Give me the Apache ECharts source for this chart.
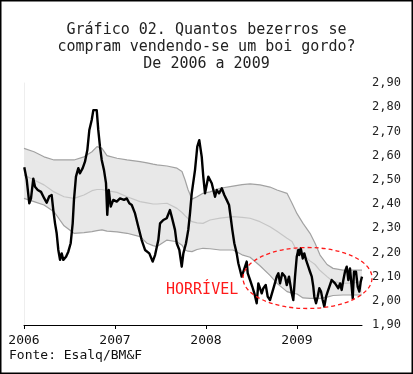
<!DOCTYPE html>
<html><head><meta charset="utf-8">
<script src="https://cdn.jsdelivr.net/npm/echarts@6/dist/echarts.min.js"></script>
<style>html,body{margin:0;padding:0;background:#fff}#c{width:413px;height:374px}</style>
</head><body><div id="c"></div>
<script>
// Title / texts
const titleText = 'Gráfico 02. Quantos bezerros se\ncompram vendendo-se um boi gordo?\nDe 2006 a 2009';
const sourceText = 'Fonte: Esalq/BM&F';
const noteText = 'HORRÍVEL';

// X axis ticks (years) and Y axis ticks
const xTickYears = [2006, 2007, 2008, 2009];
const yMin = 1.9, yMax = 2.9, yStep = 0.1;
const xMin = 2006, xMax = 2009.714;

// Black series: dates as decimal years, ratio (bezerros por boi)
const years = [
2006.003,2006.030,2006.058,2006.077,2006.102,2006.121,2006.151,2006.187,2006.223,2006.249,
2006.278,2006.304,2006.322,2006.341,2006.359,2006.377,2006.396,2006.414,2006.432,2006.462,
2006.487,2006.513,2006.535,2006.549,2006.571,2006.597,2006.615,2006.645,2006.670,2006.696,
2006.718,2006.744,2006.762,2006.799,2006.816,2006.835,2006.854,2006.879,2006.901,2006.915,
2006.931,2006.953,2006.981,2007.019,2007.055,2007.099,2007.129,2007.157,2007.184,2007.220,
2007.256,2007.293,2007.330,2007.377,2007.414,2007.440,2007.476,2007.495,2007.531,2007.568,
2007.604,2007.623,2007.659,2007.678,2007.707,2007.733,2007.751,2007.780,2007.805,2007.824,
2007.843,2007.879,2007.904,2007.926,2007.953,2007.970,2007.989,2008.008,2008.025,2008.044,
2008.063,2008.080,2008.099,2008.118,2008.143,2008.173,2008.201,2008.227,2008.253,2008.275,
2008.289,2008.311,2008.337,2008.355,2008.374,2008.392,2008.410,2008.429,2008.447,2008.458,
2008.484,2008.509,2008.531,2008.557,2008.575,2008.593,2008.612,2008.630,2008.656,2008.678,
2008.703,2008.722,2008.751,2008.777,2008.795,2008.813,2008.838,2008.868,2008.887,2008.912,
2008.942,2008.959,2008.978,2008.997,2009.014,2009.025,2009.041,2009.063,2009.080,2009.099,
2009.124,2009.143,2009.162,2009.179,2009.190,2009.209,2009.227,2009.245,2009.264,2009.282,
2009.300,2009.319,2009.337,2009.355,2009.381,2009.399,2009.418,2009.436,2009.454,2009.473,
2009.491,2009.509,2009.527,2009.546,2009.564,2009.582,2009.601,2009.612,2009.626,2009.648,
2009.667,2009.685,2009.700,2009.714
];
const ratio = [
2.552,2.500,2.403,2.423,2.505,2.471,2.458,2.450,2.423,2.405,
2.432,2.437,2.375,2.320,2.279,2.210,2.169,2.196,2.169,2.182,
2.203,2.238,2.320,2.417,2.513,2.548,2.527,2.548,2.575,2.623,
2.706,2.747,2.788,2.788,2.706,2.637,2.582,2.540,2.486,2.355,
2.458,2.389,2.417,2.410,2.423,2.417,2.423,2.403,2.396,2.361,
2.306,2.251,2.210,2.196,2.162,2.189,2.251,2.320,2.334,2.341,
2.375,2.348,2.293,2.238,2.210,2.141,2.196,2.238,2.293,2.361,
2.444,2.540,2.637,2.664,2.595,2.513,2.444,2.444,2.513,2.520,
2.486,2.479,2.430,2.458,2.444,2.465,2.437,2.417,2.396,2.334,
2.293,2.238,2.196,2.155,2.127,2.100,2.093,2.141,2.162,2.114,
2.086,2.058,2.031,1.990,2.072,2.079,2.031,2.052,2.065,2.017,
2.003,2.010,2.065,2.100,2.114,2.072,2.114,2.100,2.065,2.100,
2.031,2.003,2.100,2.182,2.210,2.189,2.217,2.175,2.196,2.169,
2.141,2.120,2.100,2.058,2.017,1.990,2.017,2.052,2.038,2.003,
1.976,2.017,2.038,2.058,2.086,2.093,2.072,2.065,2.052,2.072,
2.045,2.086,2.120,2.141,2.086,2.134,2.058,2.010,2.120,2.120,
2.058,2.038,2.079,2.100
];

// Gray band: upper bound, middle (average) and lower bound
const bandYears = [
2006.000,2006.110,2006.220,2006.330,2006.440,2006.549,2006.659,2006.747,2006.802,2006.857,
2006.912,2007.022,2007.132,2007.275,2007.352,2007.418,2007.462,2007.571,2007.681,2007.736,
2007.769,2007.802,2007.846,2007.901,2007.967,2008.044,2008.154,2008.297,2008.396,2008.484,
2008.593,2008.703,2008.780,2008.890,2008.945,2009.000,2009.066,2009.143,2009.198,2009.253,
2009.330,2009.396,2009.505,2009.615,2009.714
];
const bandUpper = [
2.630,2.616,2.595,2.582,2.582,2.582,2.595,2.616,2.637,2.630,
2.600,2.589,2.582,2.575,2.570,2.565,2.562,2.557,2.548,2.534,
2.500,2.460,2.420,2.430,2.444,2.450,2.465,2.474,2.480,2.483,
2.479,2.470,2.458,2.444,2.403,2.360,2.320,2.279,2.238,2.189,
2.150,2.134,2.127,2.127,2.127
];
const bandMid = [
2.520,2.499,2.479,2.450,2.430,2.423,2.437,2.455,2.460,2.460,
2.455,2.448,2.430,2.410,2.405,2.400,2.400,2.403,2.382,2.365,
2.352,2.340,2.327,2.322,2.320,2.334,2.342,2.348,2.345,2.341,
2.327,2.306,2.287,2.258,2.245,2.205,2.190,2.165,2.150,2.125,
2.100,2.080,2.072,2.074,2.079
];
const bandLower = [
2.423,2.410,2.396,2.368,2.310,2.279,2.282,2.286,2.290,2.293,
2.288,2.285,2.279,2.265,2.238,2.228,2.224,2.251,2.244,2.230,
2.210,2.205,2.203,2.212,2.217,2.215,2.210,2.210,2.190,2.180,
2.145,2.105,2.072,2.038,2.032,2.028,2.012,2.010,2.010,2.010,
2.015,2.022,2.024,2.024,2.024
];

const pair = (xs, ys) => xs.map((x, i) => [x, ys[i]]);
const FONT = '"DejaVu Sans Mono", monospace';

const chart = echarts.init(document.getElementById('c'), null, {renderer: 'canvas'});
chart.setOption({
  animation: false,
  backgroundColor: '#fff',
  title: {
    text: titleText, left: 'center', top: 17,
    textStyle: {fontFamily: FONT, fontSize: 15, fontWeight: 'normal', color: '#222', lineHeight: 17}
  },
  grid: {left: 24, right: 51, top: 83, bottom: 49, containLabel: false, outerBoundsMode: 'none'},
  xAxis: {
    type: 'value', min: xMin, max: xMax, interval: 1,
    axisLine: {show: true, onZero: false, lineStyle: {color: '#000', width: 1}},
    axisTick: {show: true, length: 4, lineStyle: {color: '#000'}, customValues: xTickYears},
    axisLabel: {customValues: xTickYears, margin: 9, fontFamily: FONT, fontSize: 13, color: '#111',
      formatter: v => String(Math.round(v))},
    splitLine: {show: false}
  },
  yAxis: [{
    type: 'value', position: 'right', min: yMin, max: yMax, interval: yStep,
    axisLine: {show: false}, axisTick: {show: false}, splitLine: {show: false},
    axisLabel: {margin: 10, fontFamily: FONT, fontSize: 12, color: '#222',
      formatter: v => v.toFixed(2).replace('.', ',')}
  }, {
    type: 'value', position: 'left', min: yMin, max: yMax,
    axisLine: {show: true, lineStyle: {color: '#eeeeee', width: 1}},
    axisTick: {show: false}, axisLabel: {show: false}, splitLine: {show: false}
  }],
  graphic: [
    {type: 'text', left: 9, top: 349, z: 10,
      style: {text: sourceText, font: '13px ' + FONT, fill: '#111'}},
    {type: 'text', left: 166, top: 283, z: 10,
      style: {text: noteText, font: '15px ' + FONT, fill: '#ff1a1a'}},
    {type: 'ellipse', z: 10, silent: true,
      shape: {cx: 307.5, cy: 278, rx: 64.5, ry: 30.5},
      style: {fill: 'none', stroke: '#ff1a1a', lineWidth: 1.3, lineDash: [4, 3]}},
    {type: 'rect', z: 20, silent: true,
      shape: {x: 0, y: 0, width: 413, height: 374},
      style: {fill: 'none', stroke: '#000', lineWidth: 3}}
  ],
  series: [
    {type: 'custom', name: 'band', z: 1, silent: true,
      data: [0],
      renderItem: (params, api) => {
        const top = bandYears.map((x, i) => api.coord([x, bandUpper[i]]));
        const bot = bandYears.map((x, i) => api.coord([x, bandLower[i]])).reverse();
        return {type: 'polygon', shape: {points: top.concat(bot)}, style: {fill: '#e8e8e8'}};
      }},
    {type: 'line', name: 'upper', data: pair(bandYears, bandUpper), showSymbol: false, symbol: 'none',
      lineStyle: {color: '#a2a2a2', width: 1.2}, z: 2},
    {type: 'line', name: 'lower', data: pair(bandYears, bandLower), showSymbol: false, symbol: 'none',
      lineStyle: {color: '#a2a2a2', width: 1.2}, z: 2},
    {type: 'line', name: 'mid', data: pair(bandYears, bandMid), showSymbol: false, symbol: 'none',
      lineStyle: {color: '#c6c6c6', width: 1.2}, z: 2},
    {type: 'line', name: 'relação', data: pair(years, ratio), showSymbol: false, symbol: 'none',
      lineStyle: {color: '#000', width: 2.4, join: 'round'}, z: 3}
  ]
});
</script></body></html>
